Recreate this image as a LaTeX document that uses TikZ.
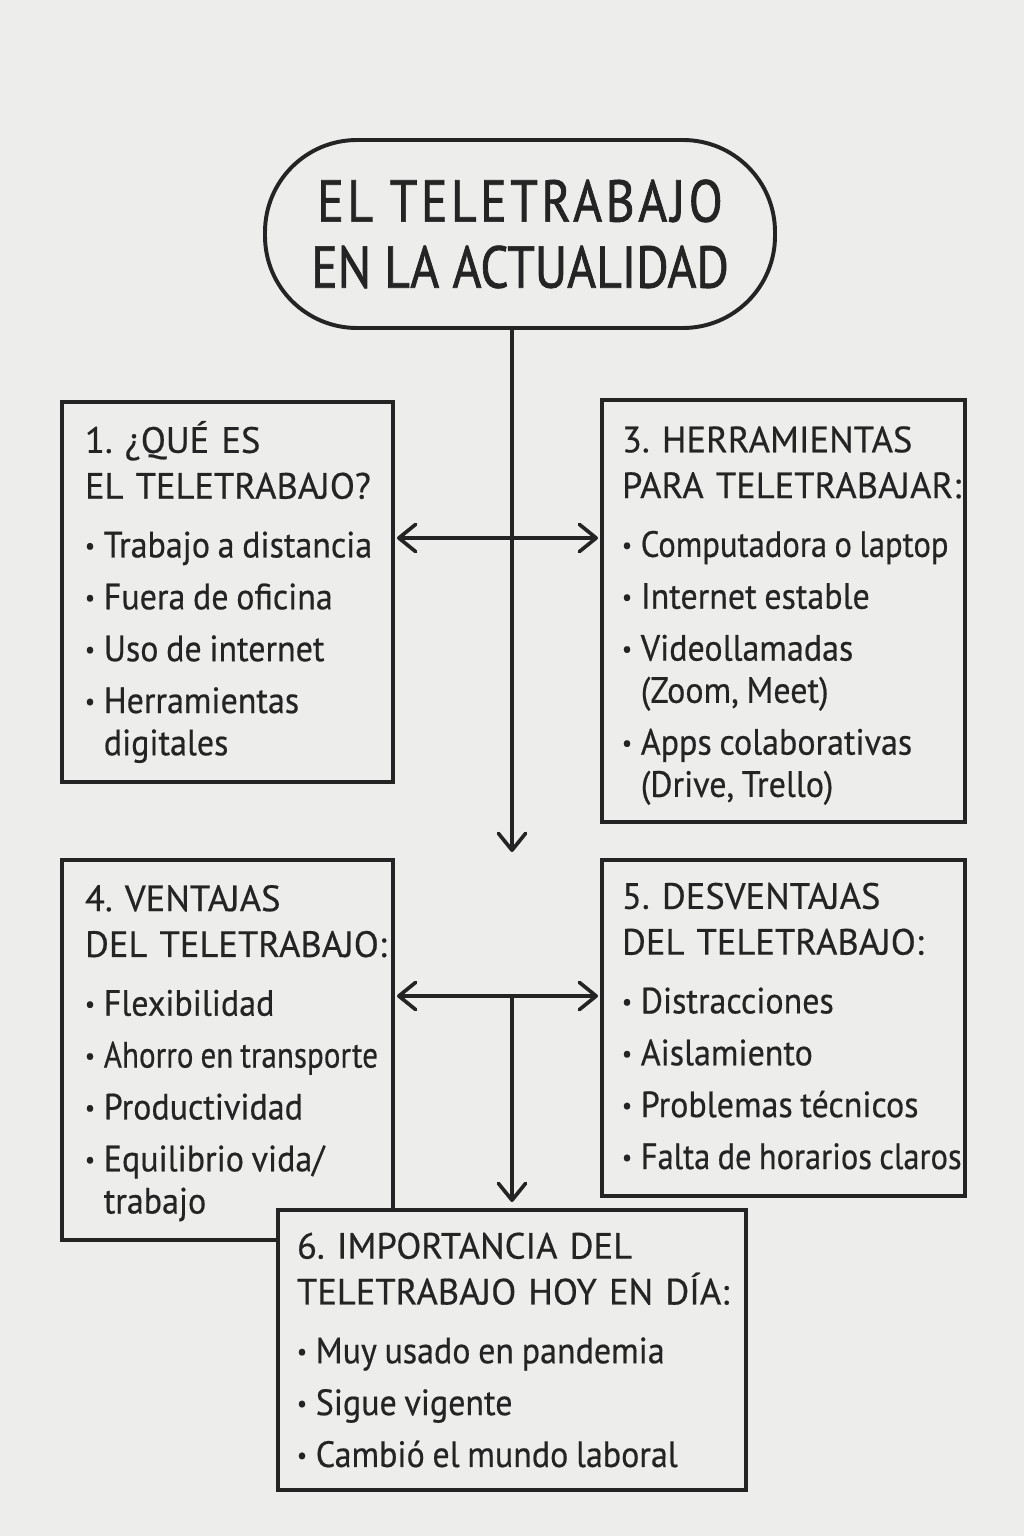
\documentclass[tikz,border=0pt]{standalone}
\usepackage{fontspec}
\setmainfont{PT Sans}[FakeBold=0.5]
\newfontfamily\bodyfont{PT Sans}[FakeStretch=0.93, FakeBold=0.5]
\newfontfamily\titlefont{PT Sans}[FakeStretch=0.84, FakeBold=1.2]
\usetikzlibrary{positioning,arrows.meta}

\definecolor{paper}{RGB}{237,237,236}
\definecolor{ink}{RGB}{36,36,36}

\frenchspacing
\newlength{\bulw}
\setlength{\bulw}{0.47cm}
\newcommand{\bitem}[1]{\mbox{\makebox[\bulw][l]{\raisebox{0.1em}{\scalebox{0.65}{•}}}#1}}
\newcommand{\bmore}[1]{\mbox{\hspace*{\bulw}#1}}
\newcommand{\hd}[1]{\mbox{#1}}
\newcommand{\squeeze}[2]{\scalebox{#1}[1]{#2}}
\newcommand{\body}{\bodyfont\spaceskip=0.21em plus 0.05em\relax}

\begin{document}
\begin{tikzpicture}[
    >={Straight Barb[round, length=0.42cm, width=0.68cm]},
    box/.style={draw=ink, line width=2.6pt, fill=paper, outer sep=0pt,
      anchor=north west, align=left, text=ink,
      font=\fontsize{26}{30}\selectfont},
    link/.style={draw=ink, line width=2.6pt, line cap=round}
  ]
  \path[use as bounding box, fill=paper] (0,0) rectangle (25.6,-38.4);

  % title
  \node[draw=ink, line width=2.8pt, rounded corners=2.3cm, outer sep=0pt,
    minimum width=12.75cm, minimum height=4.7cm, align=center, text=ink,
    font=\titlefont\fontsize{42}{47}\selectfont] (title) at (13.0,-5.85)
    {{\addfontfeature{LetterSpace=6}EL TELETRABAJO}\\EN LA ACTUALIDAD};

  % boxes
  \node[box, minimum width=8.275cm, text width=7.125cm, inner xsep=0.575cm,
    minimum height=9.5cm] (what) at (1.55,-10.05) {%
    \hd{1. ¿QUÉ ES}\\[2.6pt]
    \hd{EL TELETRABAJO?}\\[11.8pt]
    \body
    \bitem{Trabajo a distancia}\\[6.9pt]
    \bitem{Fuera de oficina}\\[6.9pt]
    \bitem{Uso de internet}\\[6.9pt]
    \bitem{Herramientas}\\
    \bmore{digitales}};
  \node[box, minimum width=9.075cm, text width=8.075cm, inner xsep=0.5cm,
    minimum height=10.55cm] (tools) at (15.05,-10.0) {%
    \hd{\rule{0pt}{25pt}3. HERRAMIENTAS}\\[2.6pt]
    \hd{PARA TELETRABAJAR:}\\[11.8pt]
    \body
    \bitem{\squeeze{0.96}{Computadora o laptop}}\\[6.9pt]
    \bitem{Internet estable}\\[6.9pt]
    \bitem{Videollamadas}\\
    \bmore{(Zoom, Meet)}\\[6.9pt]
    \bitem{Apps colaborativas}\\
    \bmore{(Drive, Trello)}};
  \node[box, below=1.95cm of what.south west, anchor=north west,
    minimum width=8.275cm, text width=7.125cm, inner xsep=0.575cm,
    minimum height=9.5cm] (pros) {%
    \hd{\rule{0pt}{23pt}4. VENTAJAS}\\[2.6pt]
    \hd{DEL TELETRABAJO:}\\[11.8pt]
    \body
    \bitem{Flexibilidad}\\[6.9pt]
    \bitem{\squeeze{0.915}{Ahorro en transporte}}\\[6.9pt]
    \bitem{Productividad}\\[6.9pt]
    \bitem{Equilibrio vida/}\\
    \bmore{trabajo}};
  \node[box, below=0.95cm of tools.south west, anchor=north west,
    minimum width=9.075cm, text width=8.075cm, inner xsep=0.5cm,
    minimum height=8.4cm] (cons) {%
    \hd{5. DESVENTAJAS}\\[2.6pt]
    \hd{DEL TELETRABAJO:}\\[11.8pt]
    \body
    \bitem{Distracciones}\\[6.9pt]
    \bitem{Aislamiento}\\[6.9pt]
    \bitem{Problemas técnicos}\\[6.9pt]
    \bitem{\squeeze{0.955}{Falta de horarios claros}}\rule[-3pt]{0pt}{0pt}};
  \node[box, minimum width=11.7cm, text width=10.75cm, inner xsep=0.475cm,
    minimum height=7.0cm] (today) at (6.95,-30.25) {%
    \hd{6. IMPORTANCIA DEL}\\[2.6pt]
    \hd{TELETRABAJO HOY EN DÍA:}\\[11.8pt]
    \body
    \bitem{Muy usado en pandemia}\\[6.9pt]
    \bitem{Sigue vigente}\\[6.9pt]
    \bitem{Cambió el mundo laboral}};

  % connectors
  \coordinate (hubA) at (12.8,-13.45);
  \coordinate (hubB) at (12.8,-24.9);
  \coordinate (stop) at (12.8,-21.3);
  \draw[link, ->] (title.south -| hubA) -- (stop);
  \draw[link, <->, shorten <=0.1cm, shorten >=0.1cm] (what.east |- hubA) -- (tools.west |- hubA);
  \draw[link, <->, shorten <=0.1cm, shorten >=0.1cm] (pros.east |- hubB) -- (cons.west |- hubB);
  \draw[link, ->, shorten >=0.2cm] (hubB) -- (today.north);
\end{tikzpicture}
\end{document}
